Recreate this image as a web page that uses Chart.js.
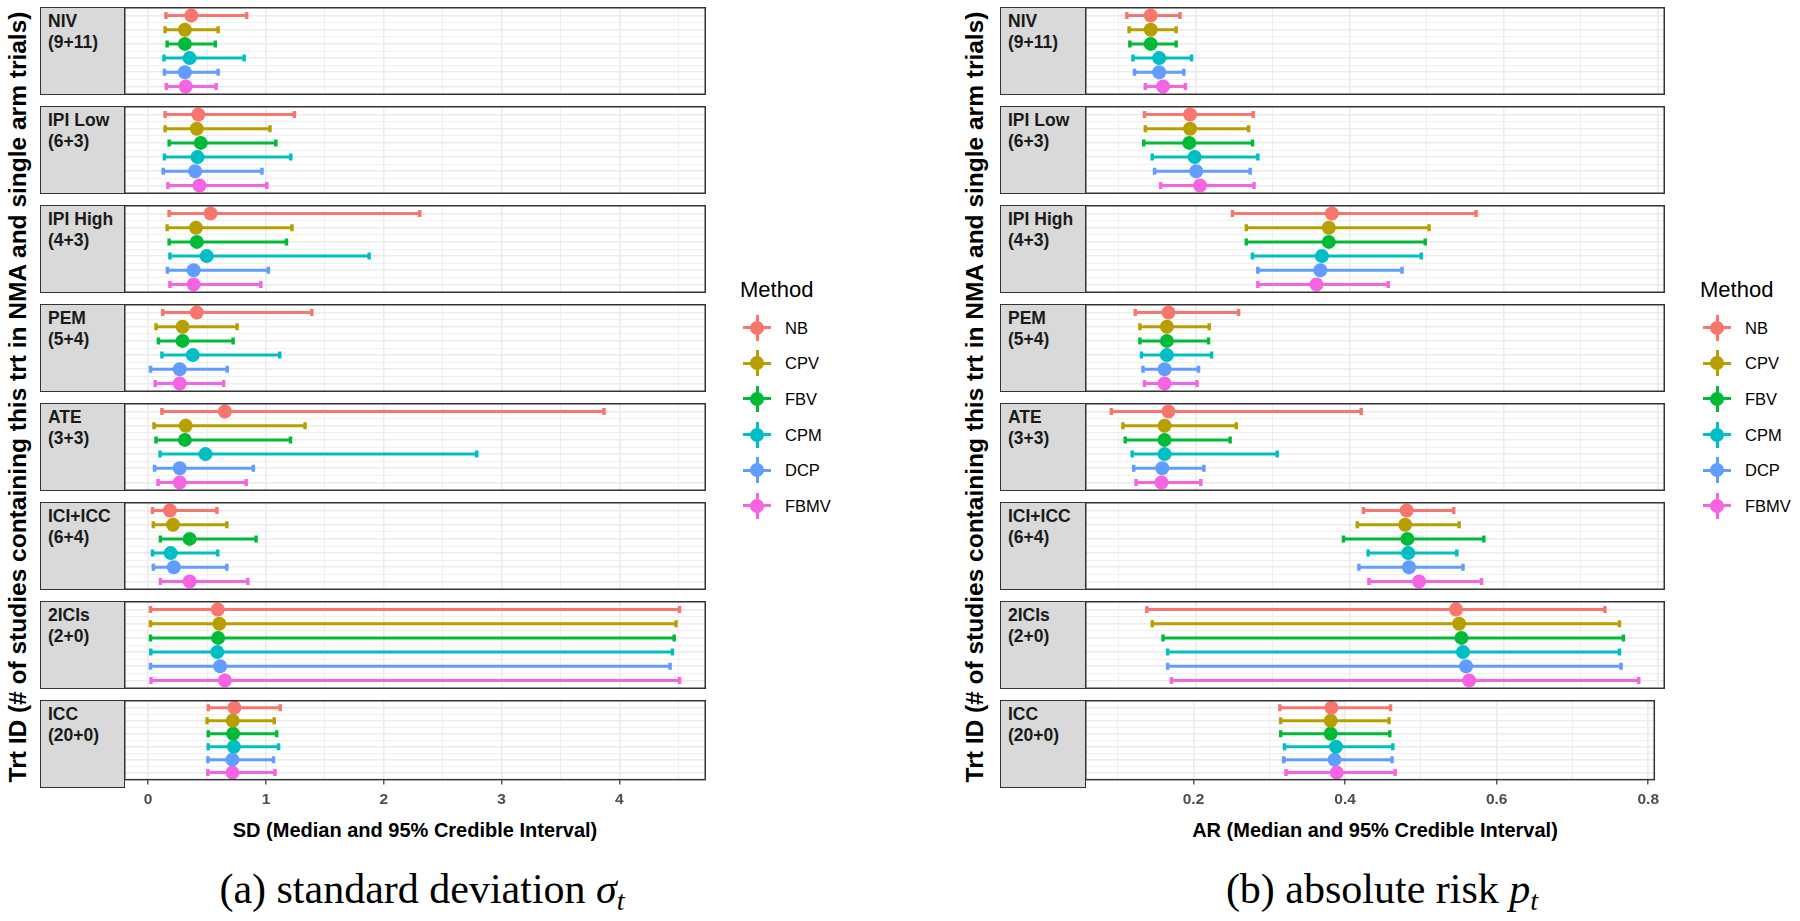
<!DOCTYPE html>
<html>
<head>
<meta charset="utf-8">
<script src="https://cdn.jsdelivr.net/npm/chart.js@4.4.1/dist/chart.umd.min.js"></script>
<style>
    body { margin: 0; background: #fff; overflow: hidden; }
    #page { position: relative; width: 1800px; height: 921px; background: #fff; font-family: "Liberation Sans", Arial, sans-serif; }
    .strip { position: absolute; box-sizing: border-box; background: #D9D9D9; border: 1.5px solid #333; padding: 3px 0 0 7px;
             font-weight: bold; font-size: 17.5px; line-height: 21px; color: #1A1A1A; }
    .plot { position: absolute; }
    .ytitle { position: absolute; font-weight: bold; font-size: 24.5px; color: #000; white-space: nowrap;
              transform: translate(-50%, -50%) rotate(-90deg); }
    .xtitle { position: absolute; font-weight: bold; font-size: 20px; color: #000; white-space: nowrap; transform: translateX(-50%); }
    .legend { position: absolute; color: #000; }
    .legend .title { font-size: 22px; height: 32px; line-height: 24px; }
    .legend .item { position: relative; height: 35.6px; font-size: 16.5px; }
    .legend .item span { position: absolute; top: 50%; transform: translateY(-50%); }
    .key { position: absolute; top: 50%; width: 28px; height: 26px; transform: translate(-50%, -50%); }
    .key .h { position: absolute; left: 0; top: 11.5px; width: 28px; height: 3px; }
    .key .v { position: absolute; left: 12.5px; top: 0; width: 3px; height: 26px; }
    .key .c { position: absolute; left: 7px; top: 6px; width: 14px; height: 14px; border-radius: 50%; }
    .caption { position: absolute; font-family: "Liberation Serif", "Times New Roman", serif; font-size: 42px; color: #000;
               white-space: nowrap; transform: translate(-50%, -50%); }
</style>
</head>
<body>
<div id="page"></div>
<script>
// --- data ---
const facetNames = ['NIV', 'IPI Low', 'IPI High', 'PEM', 'ATE', 'ICI+ICC', '2ICIs', 'ICC'];
const facetCounts = ['(9+11)', '(6+3)', '(4+3)', '(5+4)', '(3+3)', '(6+4)', '(2+0)', '(20+0)'];
const methods = ['NB', 'CPV', 'FBV', 'CPM', 'DCP', 'FBMV'];
const methodColors = ['#F8766D', '#B79F00', '#00BA38', '#00BFC4', '#619CFF', '#F564E3'];

// SD: median and 95% CrI, one row per facet, one column per method
const sdMedian = [
    [0.366, 0.312, 0.312, 0.352, 0.312, 0.319],
    [0.426, 0.413, 0.446, 0.419, 0.399, 0.436],
    [0.530, 0.406, 0.413, 0.497, 0.386, 0.386],
    [0.413, 0.292, 0.292, 0.379, 0.268, 0.268],
    [0.651, 0.319, 0.312, 0.487, 0.268, 0.268],
    [0.185, 0.211, 0.352, 0.191, 0.218, 0.352],
    [0.591, 0.604, 0.594, 0.587, 0.611, 0.651],
    [0.732, 0.718, 0.721, 0.728, 0.715, 0.715]
];
const sdLower = [
    [0.151, 0.144, 0.161, 0.134, 0.138, 0.154],
    [0.144, 0.144, 0.178, 0.138, 0.128, 0.168],
    [0.178, 0.161, 0.178, 0.185, 0.164, 0.185],
    [0.124, 0.067, 0.087, 0.117, 0.020, 0.060],
    [0.117, 0.050, 0.067, 0.101, 0.054, 0.084],
    [0.037, 0.044, 0.104, 0.037, 0.044, 0.104],
    [0.020, 0.020, 0.020, 0.022, 0.020, 0.024],
    [0.510, 0.500, 0.510, 0.510, 0.507, 0.507]
];
const sdUpper = [
    [0.836, 0.594, 0.570, 0.815, 0.594, 0.577],
    [1.242, 1.034, 1.084, 1.211, 0.966, 1.007],
    [2.305, 1.221, 1.174, 1.876, 1.020, 0.956],
    [1.389, 0.755, 0.721, 1.117, 0.671, 0.641],
    [3.869, 1.332, 1.208, 2.789, 0.893, 0.832],
    [0.584, 0.668, 0.916, 0.591, 0.668, 0.846],
    [4.510, 4.480, 4.465, 4.450, 4.430, 4.510],
    [1.121, 1.070, 1.091, 1.107, 1.064, 1.077]
];

// AR: median and 95% CrI
const arMedian = [
    [0.142, 0.142, 0.142, 0.153, 0.153, 0.158],
    [0.193, 0.193, 0.192, 0.199, 0.201, 0.206],
    [0.377, 0.373, 0.373, 0.364, 0.362, 0.357],
    [0.165, 0.163, 0.163, 0.163, 0.160, 0.160],
    [0.165, 0.160, 0.160, 0.160, 0.157, 0.156],
    [0.474, 0.472, 0.475, 0.476, 0.477, 0.490],
    [0.538, 0.542, 0.545, 0.547, 0.551, 0.555],
    [0.382, 0.381, 0.381, 0.388, 0.386, 0.389]
];
const arLower = [
    [0.111, 0.114, 0.115, 0.119, 0.121, 0.135],
    [0.134, 0.135, 0.133, 0.144, 0.147, 0.155],
    [0.248, 0.266, 0.266, 0.274, 0.281, 0.281],
    [0.122, 0.128, 0.128, 0.130, 0.132, 0.134],
    [0.091, 0.106, 0.109, 0.118, 0.120, 0.123],
    [0.418, 0.410, 0.392, 0.424, 0.412, 0.425],
    [0.137, 0.144, 0.158, 0.164, 0.164, 0.169],
    [0.314, 0.315, 0.315, 0.320, 0.319, 0.322]
];
const arUpper = [
    [0.180, 0.175, 0.175, 0.195, 0.185, 0.187],
    [0.275, 0.269, 0.274, 0.281, 0.271, 0.276],
    [0.564, 0.503, 0.498, 0.493, 0.468, 0.450],
    [0.256, 0.218, 0.217, 0.221, 0.204, 0.202],
    [0.415, 0.253, 0.245, 0.306, 0.211, 0.207],
    [0.535, 0.542, 0.574, 0.539, 0.547, 0.571],
    [0.731, 0.750, 0.755, 0.750, 0.752, 0.775],
    [0.460, 0.458, 0.459, 0.463, 0.462, 0.466]
];

const sdTicks = [0, 1, 2, 3, 4];
const sdMinorTicks = [0.5, 1.5, 2.5, 3.5, 4.5];
const arTicks = [0.2, 0.4, 0.6, 0.8];
const arMinorTicks = [0.1, 0.3, 0.5, 0.7];

// --- layout ---
const FACET_TOP = 7;
const FACET_PITCH = 99;
const FACET_H = 88;
const page = document.getElementById('page');

// draws the horizontal interval and end caps under each point
const errorBarPlugin = {
    id: 'errorBars',
    beforeDatasetsDraw(chart) {
        const { ctx, scales: { x, y } } = chart;
        ctx.save();
        ctx.beginPath();
        ctx.rect(chart.chartArea.left, chart.chartArea.top, chart.chartArea.width, chart.chartArea.height);
        ctx.clip();
        for (const ds of chart.data.datasets) {
            const py = y.getPixelForValue(ds.data[0].y);
            const x0 = x.getPixelForValue(ds.lower);
            const x1 = x.getPixelForValue(ds.upper);
            ctx.strokeStyle = ds.borderColor;
            ctx.lineWidth = 3;
            ctx.beginPath();
            ctx.moveTo(x0, py);
            ctx.lineTo(x1, py);
            ctx.stroke();
            ctx.lineWidth = 3.5;
            ctx.beginPath();
            ctx.moveTo(x0, py - 3.5);
            ctx.lineTo(x0, py + 3.5);
            ctx.moveTo(x1, py - 3.5);
            ctx.lineTo(x1, py + 3.5);
            ctx.stroke();
        }
        ctx.restore();
    }
};

const framePlugin = {
    id: 'frame',
    afterDraw(chart) {
        const { ctx, chartArea: a } = chart;
        ctx.save();
        ctx.strokeStyle = '#333';
        ctx.lineWidth = 1.5;
        ctx.strokeRect(a.left + 0.75, a.top + 0.75, a.width - 1.5, a.height - 1.5);
        ctx.restore();
    }
};

function makeFacetChart(canvas, i, p, isLast) {
    const majors = p.majorTicks;
    const allTicks = majors.concat(p.minorTicks).sort((a, b) => a - b);
    const isMajor = v => majors.some(m => Math.abs(m - v) < 1e-9);
    const rows = [1, 2, 3, 4, 5, 6];
    const rowGrid = [1, 1.5, 2, 2.5, 3, 3.5, 4, 4.5, 5, 5.5, 6];

    return new Chart(canvas.getContext('2d'), {
        type: 'scatter',
        data: {
            datasets: methods.map((m, j) => ({
                label: m,
                data: [{ x: p.median[i][j], y: rows[j] }],
                lower: p.lower[i][j],
                upper: p.upper[i][j],
                backgroundColor: methodColors[j],
                borderColor: methodColors[j],
                borderWidth: 0,
                pointRadius: 7,
                pointHoverRadius: 7
            }))
        },
        options: {
            responsive: false,
            animation: false,
            events: [],
            layout: { padding: 0, autoPadding: false },
            plugins: { legend: { display: false }, tooltip: { enabled: false } },
            scales: {
                x: {
                    type: 'linear',
                    min: p.xMin,
                    max: p.xMax,
                    afterBuildTicks: s => { s.ticks = allTicks.map(v => ({ value: v })); },
                    border: { display: false },
                    grid: {
                        color: '#EBEBEB',
                        lineWidth: ctx => (ctx.tick && isMajor(ctx.tick.value)) ? 1.6 : 0.8,
                        drawTicks: isLast,
                        tickLength: 4,
                        tickWidth: 1.2,
                        tickColor: ctx => (ctx.tick && isMajor(ctx.tick.value)) ? '#333' : 'rgba(0,0,0,0)'
                    },
                    ticks: {
                        display: isLast,
                        autoSkip: false,
                        maxRotation: 0,
                        padding: 6,
                        color: '#4D4D4D',
                        font: { family: '"Liberation Sans", Arial, sans-serif', size: 15.5, weight: 'bold' },
                        callback: v => isMajor(v) ? p.tickFormat(v) : ''
                    }
                },
                y: {
                    type: 'linear',
                    min: 0.4,
                    max: 6.6,
                    reverse: true,
                    afterBuildTicks: s => { s.ticks = rowGrid.map(v => ({ value: v })); },
                    border: { display: false },
                    grid: {
                        color: '#EBEBEB',
                        lineWidth: ctx => (ctx.tick && Number.isInteger(ctx.tick.value)) ? 1.6 : 0.8,
                        drawTicks: false
                    },
                    ticks: { display: false, padding: 0 }
                }
            }
        },
        plugins: [errorBarPlugin, framePlugin]
    });
}

function buildPanel(p) {
    facetNames.forEach((name, i) => {
        const top = FACET_TOP + FACET_PITCH * i;
        const isLast = i === facetNames.length - 1;

        const strip = document.createElement('div');
        strip.className = 'strip';
        strip.style.left = p.stripLeft + 'px';
        strip.style.top = top + 'px';
        strip.style.width = (p.plotLeft - p.stripLeft + 1) + 'px';
        strip.style.height = FACET_H + 'px';
        strip.innerHTML = name + '<br>' + facetCounts[i];
        page.appendChild(strip);

        const holder = document.createElement('div');
        holder.className = 'plot';
        holder.style.left = p.plotLeft + 'px';
        holder.style.top = top + 'px';
        const canvas = document.createElement('canvas');
        const w = p.plotRight - p.plotLeft;
        const h = FACET_H + (isLast ? 27 : 0);
        canvas.width = w;
        canvas.height = h;
        canvas.style.width = w + 'px';
        canvas.style.height = h + 'px';
        holder.appendChild(canvas);
        page.appendChild(holder);
        makeFacetChart(canvas, i, p, isLast);
    });

    const yt = document.createElement('div');
    yt.className = 'ytitle';
    yt.style.left = p.yTitleX + 'px';
    yt.style.top = '397px';
    yt.textContent = 'Trt ID (# of studies containing this trt in NMA and single arm trials)';
    page.appendChild(yt);

    const xt = document.createElement('div');
    xt.className = 'xtitle';
    xt.style.left = ((p.plotLeft + p.plotRight) / 2) + 'px';
    xt.style.top = '819px';
    xt.textContent = p.xTitle;
    page.appendChild(xt);

    const lg = document.createElement('div');
    lg.className = 'legend';
    lg.style.left = p.legendLeft + 'px';
    lg.style.top = '278px';
    let html = '<div class="title">Method</div>';
    methods.forEach((m, j) => {
        const c = methodColors[j];
        html += `<div class="item"><div class="key" style="left:17px">` +
            `<div class="h" style="background:${c}"></div><div class="v" style="background:${c}"></div>` +
            `<div class="c" style="background:${c}"></div></div><span style="left:45px">${m}</span></div>`;
    });
    lg.innerHTML = html;
    page.appendChild(lg);

    const cap = document.createElement('div');
    cap.className = 'caption';
    cap.style.left = p.captionX + 'px';
    cap.style.top = '891px';
    cap.innerHTML = p.caption;
    page.appendChild(cap);
}

buildPanel({
    stripLeft: 40, plotLeft: 124, plotRight: 706,
    xMin: -0.205, xMax: 4.735,
    majorTicks: sdTicks, minorTicks: sdMinorTicks,
    median: sdMedian, lower: sdLower, upper: sdUpper,
    tickFormat: v => String(v),
    xTitle: 'SD (Median and 95% Credible Interval)',
    yTitleX: 18, legendLeft: 740, captionX: 422,
    caption: '(a) standard deviation <i>σ</i><sub style="font-size:28px;vertical-align:-7px"><i>t</i></sub>'
});

buildPanel({
    stripLeft: 1000, plotLeft: 1085, plotRight: 1665,
    xMin: 0.0568, xMax: 0.809,
    majorTicks: arTicks, minorTicks: arMinorTicks,
    median: arMedian, lower: arLower, upper: arUpper,
    tickFormat: v => v.toFixed(1),
    xTitle: 'AR (Median and 95% Credible Interval)',
    yTitleX: 975, legendLeft: 1700, captionX: 1382,
    caption: '(b) absolute risk <i>p</i><sub style="font-size:28px;vertical-align:-7px"><i>t</i></sub>'
});
</script>
</body>
</html>
